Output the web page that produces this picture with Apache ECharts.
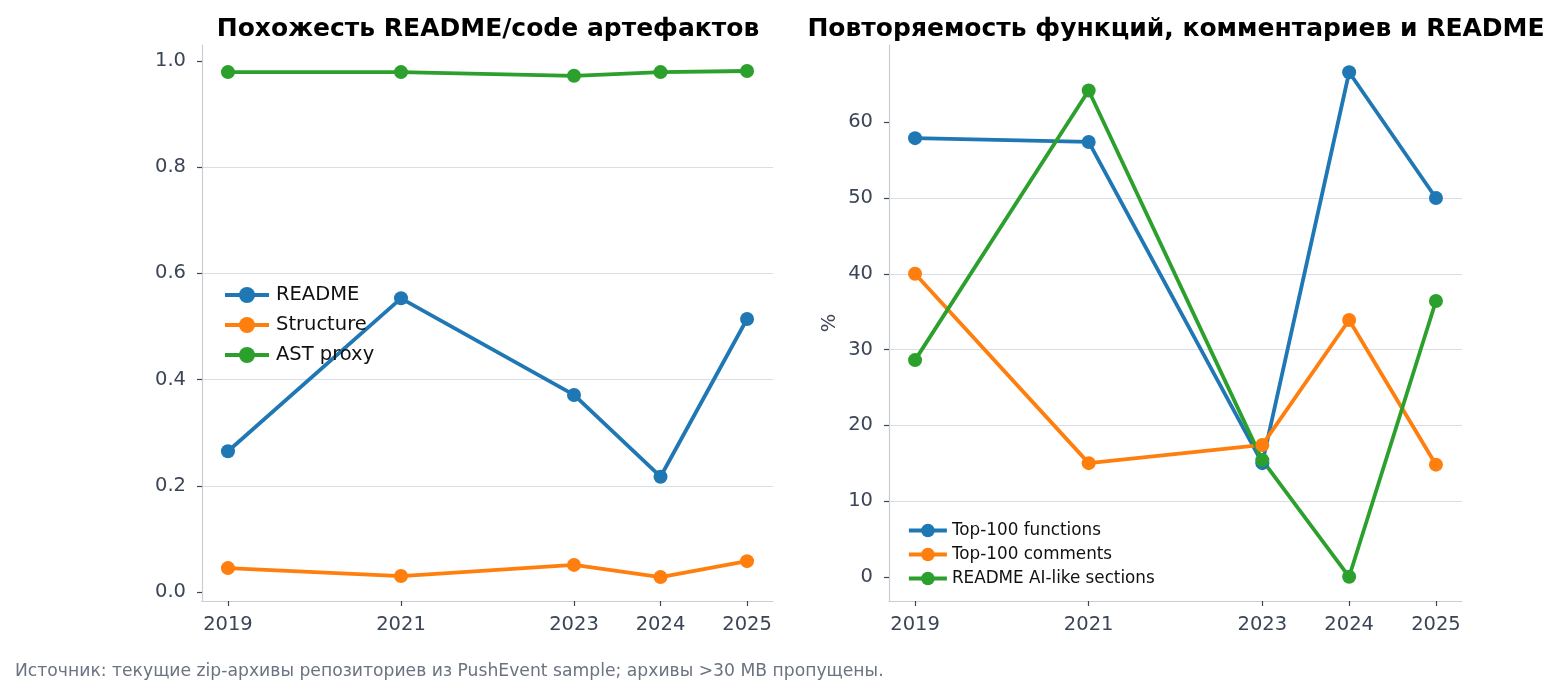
<!DOCTYPE html>
<html>
<head>
<meta charset="utf-8">
<script src="https://cdn.jsdelivr.net/npm/echarts@6/dist/echarts.min.js"></script>
<style>
  html, body { margin: 0; padding: 0; background: #fff; }
  #chart { width: 1560px; height: 693px; }
</style>
</head>
<body>
<div id="chart"></div>
<script>
// годы (числовая ось x)
const years = [2019, 2021, 2023, 2024, 2025];

// левая панель: похожесть
const readmeSim = [0.265, 0.553, 0.371, 0.217, 0.514];
const structureSim = [0.045, 0.030, 0.051, 0.028, 0.058];
const astSim = [0.979, 0.979, 0.972, 0.979, 0.981];
const leftTicks = [0.0, 0.2, 0.4, 0.6, 0.8, 1.0];

// правая панель: повторяемость, %
const topFunctions = [57.9, 57.4, 15.0, 66.6, 50.0];
const topComments = [40.0, 15.0, 17.4, 33.9, 14.8];
const readmeAiLike = [28.6, 64.2, 15.4, 0.0, 36.4];
const rightTicks = [0, 10, 20, 30, 40, 50, 60];

const colors = ['#1f77b4', '#ff7f0e', '#2ca02c'];
const labelColor = '#3b4556';
const spineColor = '#c9ced6';
const gridColor = '#d9dee6';
const font = '"DejaVu Sans", sans-serif';
const tickSize = 19.5;

const pairs = (ys) => years.map((y, i) => [y, ys[i]]);

const xAxisBase = (gridIndex) => ({
	type: 'value',
	gridIndex,
	min: 2018.7,
	max: 2025.3,
	axisLine: { show: true, onZero: false, lineStyle: { color: spineColor, width: 1.2 } },
	axisTick: { show: true, length: 5, customValues: years, lineStyle: { color: labelColor, width: 1.2 } },
	axisLabel: {
		customValues: years,
		margin: 14,
		fontSize: tickSize,
		fontFamily: font,
		color: labelColor,
		formatter: (v) => String(Math.round(v)),
	},
	splitLine: { show: false },
});

const yAxisBase = (gridIndex, min, max, splitNumber, ticks, fmt) => ({
	type: 'value',
	gridIndex,
	min,
	max,
	splitNumber,
	axisLine: { show: true, onZero: false, lineStyle: { color: spineColor, width: 1.2 } },
	axisTick: { show: true, length: 5, customValues: ticks, lineStyle: { color: labelColor, width: 1.2 } },
	axisLabel: {
		customValues: ticks,
		margin: 16,
		fontSize: tickSize,
		fontFamily: font,
		color: labelColor,
		formatter: fmt,
	},
	splitLine: { show: true, showMinLine: false, showMaxLine: false, lineStyle: { color: gridColor, width: 1.2 } },
});

const lineSeries = (name, data, color, xi, yi) => ({
	name,
	type: 'line',
	xAxisIndex: xi,
	yAxisIndex: yi,
	data: pairs(data),
	symbol: 'circle',
	symbolSize: 14,
	lineStyle: { color, width: 3.8 },
	itemStyle: { color },
	emphasis: { disabled: true },
});

const option = {
	animation: false,
	backgroundColor: '#fff',
	title: [
		{
			text: 'Похожесть README/code артефактов',
			left: 483, top: 12, textAlign: 'center',
			textStyle: { fontSize: 25, fontWeight: 'bold', fontFamily: font, color: '#000' },
		},
		{
			text: 'Повторяемость функций, комментариев и README',
			left: 1171, top: 12, textAlign: 'center',
			textStyle: { fontSize: 25, fontWeight: 'bold', fontFamily: font, color: '#000' },
		},
		{
			text: 'Источник: текущие zip-архивы репозиториев из PushEvent sample; архивы >30 MB пропущены.',
			left: 10, top: 658,
			textStyle: { fontSize: 17.2, fontWeight: 'normal', fontFamily: font, color: '#6b7280' },
		},
	],
	legend: [
		{
			data: ['README', 'Structure', 'AST proxy'],
			orient: 'vertical',
			left: 218, top: 280,
			itemWidth: 44, itemHeight: 20, itemGap: 10,
			lineStyle: { width: 4 },
			textStyle: { fontSize: 19.5, lineHeight: 20, fontFamily: font, color: '#111', padding: [0, 0, 0, 2] },
		},
		{
			data: ['Top-100 functions', 'Top-100 comments', 'README AI-like sections'],
			orient: 'vertical',
			left: 902, top: 517,
			itemWidth: 38, itemHeight: 17, itemGap: 7,
			lineStyle: { width: 3.8 },
			textStyle: { fontSize: 16.8, lineHeight: 17, fontFamily: font, color: '#111', padding: [0, 0, 0, 0] },
		},
	],
	grid: [
		{ left: 202, right: 787, top: 45, bottom: 92 },
		{ left: 889, right: 98, top: 45, bottom: 92 },
	],
	xAxis: [xAxisBase(0), xAxisBase(1)],
	yAxis: [
		yAxisBase(0, -0.017, 1.03, 5, leftTicks, (v) => v.toFixed(1)),
		Object.assign(yAxisBase(1, -3.2, 70.2, 7, rightTicks, (v) => String(Math.round(v))), {
			name: '%',
			nameLocation: 'middle',
			nameGap: 49,
			nameRotate: 90,
			nameTextStyle: { fontSize: tickSize, fontFamily: font, color: labelColor },
		}),
	],
	series: [
		lineSeries('README', readmeSim, colors[0], 0, 0),
		lineSeries('Structure', structureSim, colors[1], 0, 0),
		lineSeries('AST proxy', astSim, colors[2], 0, 0),
		lineSeries('Top-100 functions', topFunctions, colors[0], 1, 1),
		lineSeries('Top-100 comments', topComments, colors[1], 1, 1),
		lineSeries('README AI-like sections', readmeAiLike, colors[2], 1, 1),
	],
};

const myChart = echarts.init(document.getElementById('chart'));
myChart.setOption(option);
window.onresize = function () {
	myChart.resize();
};
</script>
</body>
</html>
